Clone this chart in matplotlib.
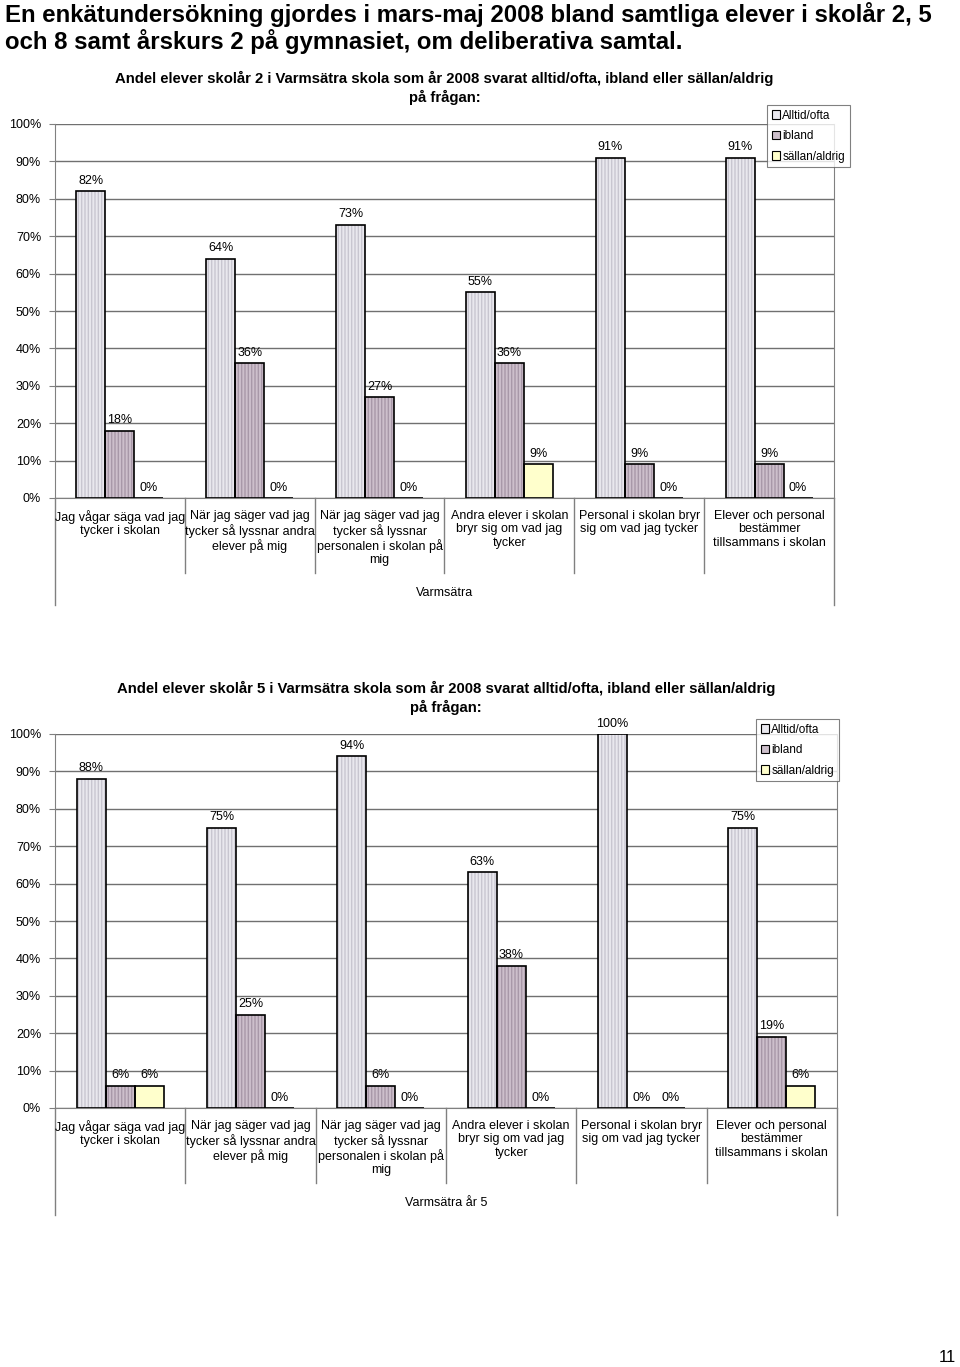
import numpy as np
import matplotlib.pyplot as plt
from matplotlib.lines import Line2D
from matplotlib.patches import Patch

plt.rcParams['font.family'] = ['Liberation Sans', 'DejaVu Sans']

# category labels (same questions in both charts)
questions = [
    "Jag vågar säga vad jag\ntycker i skolan",
    "När jag säger vad jag\ntycker så lyssnar andra\nelever på mig",
    "När jag säger vad jag\ntycker så lyssnar\npersonalen i skolan på\nmig",
    "Andra elever i skolan\nbryr sig om vad jag\ntycker",
    "Personal i skolan bryr\nsig om vad jag tycker",
    "Elever och personal\nbestämmer\ntillsammans i skolan",
]
series_names = ["Alltid/ofta", "ibland", "sällan/aldrig"]

# skolår 2
alltid_2 = [82, 64, 73, 55, 91, 91]
ibland_2 = [18, 36, 27, 36, 9, 9]
sallan_2 = [0, 0, 0, 9, 0, 0]

# skolår 5
alltid_5 = [88, 75, 94, 63, 100, 75]
ibland_5 = [6, 25, 6, 38, 0, 19]
sallan_5 = [6, 0, 0, 0, 0, 6]

fills = ["#e9e8ee", "#cdbfcb", "#ffffcc"]
hatch_cols = ["#c8c6d0", "#a898a8", "#ffffcc"]

W, H = 960, 1367
fig = plt.figure(figsize=(W / 100, H / 100), dpi=100)

fig.text(5 / W, 1 - 2 / H,
         "En enkätundersökning gjordes i mars-maj 2008 bland samtliga elever i skolår 2, 5\n"
         "och 8 samt årskurs 2 på gymnasiet, om deliberativa samtal.",
         ha='left', va='top', fontsize=17.3, fontweight='bold', linespacing=1.1)
fig.text(947 / W, 1 - 1357 / H, "11", ha='center', va='center', fontsize=12)


def draw_chart(rect, title, xtitle, data, legend_xy):
    ax = fig.add_axes(rect)
    x = np.arange(len(questions))
    w = 0.223
    for i, vals in enumerate(data):
        pos = x + (i - 1) * w
        # textured fill, then black outline on top
        ax.bar(pos, vals, w, color=fills[i], hatch='|||||', edgecolor=hatch_cols[i],
               linewidth=0, zorder=2)
        ax.bar(pos, vals, w, fill=False, edgecolor='black', linewidth=1.2, zorder=3)
        for p, v in zip(pos, vals):
            ax.text(p, v + 1.2, f"{v}%", ha='center', va='bottom', fontsize=9, zorder=4)

    ax.set_xlim(-0.5, len(questions) - 0.5)
    ax.set_ylim(0, 100)
    ax.set_yticks(np.arange(0, 101, 10))
    ax.set_yticklabels([f"{t}%" for t in range(0, 101, 10)], fontsize=9)
    ax.tick_params(axis='y', length=4, color='#808080', pad=6)
    ax.set_xticks([])
    ax.grid(axis='y', color='#707070', linewidth=1.0, zorder=0)
    ax.set_axisbelow(True)
    ax.spines['top'].set_visible(False)
    for s in ['left', 'right', 'bottom']:
        ax.spines[s].set_color('#808080')

    # category labels and separators below the axis
    for k, q in enumerate(questions):
        ax.text(k, -3.2, q, ha='center', va='top', fontsize=9, linespacing=1.15)
    for k in range(1, len(questions)):
        ax.add_line(Line2D([k - 0.5, k - 0.5], [0, -20], color='#808080', lw=1, clip_on=False))
    for xe in [-0.5, len(questions) - 0.5]:
        ax.add_line(Line2D([xe, xe], [0, -28.5], color='#808080', lw=1, clip_on=False))
    ax.text((len(questions) - 1) / 2, -25.5, xtitle, ha='center', va='center', fontsize=9)

    ax.set_title(title, fontsize=10.7, fontweight='bold', pad=16, linespacing=1.3)

    handles = [Patch(facecolor=fills[i], edgecolor='black', linewidth=0.8) for i in range(3)]
    leg = ax.legend(handles, series_names, loc='upper left',
                    bbox_to_anchor=(legend_xy[0] / W, 1 - legend_xy[1] / H),
                    bbox_transform=fig.transFigure, fontsize=8.5, frameon=True, fancybox=False,
                    handlelength=0.7, handleheight=0.7, handletextpad=0.2,
                    borderpad=0.4, labelspacing=0.72, borderaxespad=0)
    leg.get_frame().set_edgecolor('#606060')
    leg.get_frame().set_linewidth(0.8)
    return ax


draw_chart([55 / W, 1 - 498 / H, 779 / W, 374 / H],
           "Andel elever skolår 2 i Varmsätra skola som år 2008 svarat alltid/ofta, ibland eller sällan/aldrig\npå frågan:",
           "Varmsätra", [alltid_2, ibland_2, sallan_2], (767, 105))

draw_chart([55 / W, 1 - 1108 / H, 782 / W, 374 / H],
           "Andel elever skolår 5 i Varmsätra skola som år 2008 svarat alltid/ofta, ibland eller sällan/aldrig\npå frågan:",
           "Varmsätra år 5", [alltid_5, ibland_5, sallan_5], (756, 719))

fig.savefig("out.png", dpi=100)
